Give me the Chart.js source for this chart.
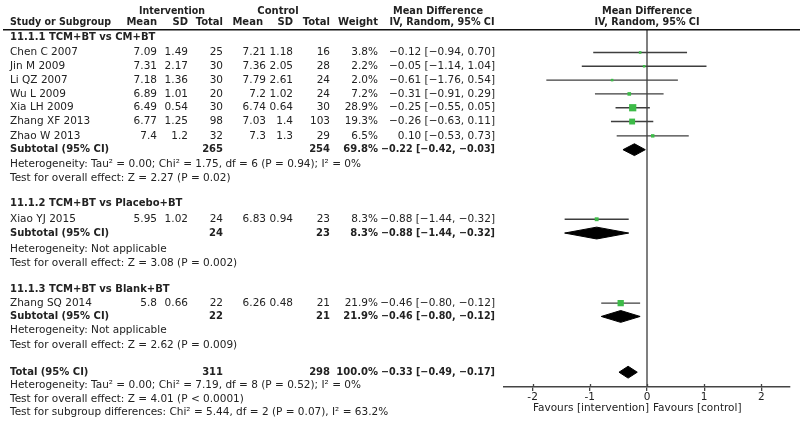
<!DOCTYPE html>
<html>
<head>
<meta charset="utf-8">
<script src="https://cdn.jsdelivr.net/npm/chart.js@4/dist/chart.umd.min.js"></script>
<style>
  html, body { margin: 0; padding: 0; background: #fff; }
  #wrap { width: 800px; height: 423px; }
</style>
</head>
<body>
<div id="wrap"><canvas id="forest" width="800" height="423"></canvas></div>
<script>
// study level data
var studies   = ['Chen C 2007', 'Jin M 2009', 'Li QZ 2007', 'Wu L 2009', 'Xia LH 2009', 'Zhang XF 2013', 'Zhao W 2013', 'Xiao YJ 2015', 'Zhang SQ 2014'];
var studyGroup = [0, 0, 0, 0, 0, 0, 0, 1, 2];
var intMean   = [7.09, 7.31, 7.18, 6.89, 6.49, 6.77, 7.4, 5.95, 5.8];
var intSD     = [1.49, 2.17, 1.36, 1.01, 0.54, 1.25, 1.2, 1.02, 0.66];
var intN      = [25, 30, 30, 20, 30, 98, 32, 24, 22];
var ctlMean   = [7.21, 7.36, 7.79, 7.2, 6.74, 7.03, 7.3, 6.83, 6.26];
var ctlSD     = [1.18, 2.05, 2.61, 1.02, 0.64, 1.4, 1.3, 0.94, 0.48];
var ctlN      = [16, 28, 24, 24, 30, 103, 29, 23, 21];
var weight    = [3.8, 2.2, 2.0, 7.2, 28.9, 19.3, 6.5, 8.3, 21.9];
var md        = [-0.12, -0.05, -0.61, -0.31, -0.25, -0.26, 0.10, -0.88, -0.46];
var mdLow     = [-0.94, -1.14, -1.76, -0.91, -0.55, -0.63, -0.53, -1.44, -0.80];
var mdHigh    = [0.70, 1.04, 0.54, 0.29, 0.05, 0.11, 0.73, -0.32, -0.12];

// subgroup data
var subgroups = ['11.1.1 TCM+BT vs CM+BT', '11.1.2 TCM+BT vs Placebo+BT', '11.1.3 TCM+BT vs Blank+BT'];
var subIntN   = [265, 24, 22];
var subCtlN   = [254, 23, 21];
var subWeight = [69.8, 8.3, 21.9];
var subMd     = [-0.22, -0.88, -0.46];
var subLow    = [-0.42, -1.44, -0.80];
var subHigh   = [-0.03, -0.32, -0.12];
var subHet    = ['Heterogeneity: Tau\u00b2 = 0.00; Chi\u00b2 = 1.75, df = 6 (P = 0.94); I\u00b2 = 0%',
                 'Heterogeneity: Not applicable',
                 'Heterogeneity: Not applicable'];
var subTest   = ['Test for overall effect: Z = 2.27 (P = 0.02)',
                 'Test for overall effect: Z = 3.08 (P = 0.002)',
                 'Test for overall effect: Z = 2.62 (P = 0.009)'];

// overall
var totalIntN = 311, totalCtlN = 298, totalWeight = 100.0;
var totalMd = -0.33, totalLow = -0.49, totalHigh = -0.17;
var totalNotes = ['Heterogeneity: Tau\u00b2 = 0.00; Chi\u00b2 = 7.19, df = 8 (P = 0.52); I\u00b2 = 0%',
                  'Test for overall effect: Z = 4.01 (P < 0.0001)',
                  'Test for subgroup differences: Chi\u00b2 = 5.44, df = 2 (P = 0.07), I\u00b2 = 63.2%'];

var xTicks = [-2, -1, 0, 1, 2];
var favours = ['Favours [intervention]', 'Favours [control]'];

// ---- layout (row positions on the y scale, column edges) ----
var ruleY = 25;
var axisY = 387;
var groupRowY = [33, 201, 288];
var studyRowY = [48, 62, 76, 90, 104, 118, 132.5, 217, 302];
var subRowY = [146.5, 231, 315.5];
var hetRowY = [161, 247, 330];
var testRowY = [175, 261.5, 345];
var totalRowY = 372;
var totalNoteY = [385, 399, 413];
var col = { name: 10, iMean: 157, iSD: 188, iN: 223, cMean: 266, cSD: 293, cN: 330, w: 378, md: 495 };

var FONT = '"DejaVu Sans", Verdana, sans-serif';
var INK = '#222';

function fmt(v) {
  return (v < 0 ? '\u2212' : '') + Math.abs(v).toFixed(2);
}
function ciText(m, l, h) {
  return fmt(m) + ' [' + fmt(l) + ', ' + fmt(h) + ']';
}

var datasets = [];

// confidence interval whiskers (drawn under the squares)
studies.forEach(function(s, i) {
  datasets.push({
    order: 2,
    data: [{x: mdLow[i], y: studyRowY[i]}, {x: mdHigh[i], y: studyRowY[i]}],
    showLine: true, borderColor: '#3e3e3e', borderWidth: 1.4, pointRadius: 0, fill: false
  });
});

// weighted squares
datasets.push({
  order: 0,
  data: studies.map(function(s, i) { return {x: md[i], y: studyRowY[i]}; }),
  pointStyle: 'rect',
  pointRadius: weight.map(function(w) { return Math.max(1.8, 0.95 * Math.sqrt(w)); }),
  backgroundColor: '#3dbb48', borderColor: '#3dbb48', borderWidth: 0
});

// diamonds for subtotals and total
function diamond(m, l, h, y, half) {
  return {
    order: 1,
    data: [{x: l, y: y}, {x: m, y: y - half}, {x: h, y: y}, {x: m, y: y + half}, {x: l, y: y}],
    showLine: true, fill: 'shape', tension: 0, pointRadius: 0,
    borderColor: '#000', backgroundColor: '#000', borderWidth: 1
  };
}
subgroups.forEach(function(g, i) {
  datasets.push(diamond(subMd[i], subLow[i], subHigh[i], subRowY[i], 6));
});
datasets.push(diamond(totalMd, totalLow, totalHigh, totalRowY, 6));

// line of no effect
datasets.push({
  order: 3,
  data: [{x: 0, y: ruleY}, {x: 0, y: axisY}],
  showLine: true, borderColor: '#555', borderWidth: 1.5, pointRadius: 0, fill: false
});

var tablePlugin = {
  id: 'forestTable',
  afterDraw: function(chart) {
    var ctx = chart.ctx;
    var ys = chart.scales.y, xs = chart.scales.x;
    var Y = function(v) { return ys.getPixelForValue(v); };
    var reg = '10.5px ' + FONT, bold = 'bold 10px ' + FONT;

    function txt(s, x, y, align, f, maxW) {
      ctx.font = f || reg;
      ctx.textAlign = align || 'left';
      if (maxW) ctx.fillText(s, x, Y(y), maxW);
      else ctx.fillText(s, x, Y(y));
    }

    ctx.save();
    ctx.fillStyle = INK;
    ctx.textBaseline = 'middle';

    // header
    var zeroX = xs.getPixelForValue(0);
    txt('Intervention', 172, 6, 'center', bold, 66);
    txt('Control', 278, 6, 'center', bold);
    txt('Mean Difference', 438, 6, 'center', bold, 90);
    txt('Mean Difference', zeroX, 6, 'center', bold, 90);
    txt('Study or Subgroup', col.name, 18, 'left', bold, 101);
    txt('Mean', col.iMean, 18, 'right', bold);
    txt('SD', col.iSD, 18, 'right', bold);
    txt('Total', col.iN, 18, 'right', bold);
    txt('Mean', col.cMean - 3, 18, 'right', bold);
    txt('SD', col.cSD, 18, 'right', bold);
    txt('Total', col.cN, 18, 'right', bold);
    txt('Weight', col.w, 18, 'right', bold);
    txt('IV, Random, 95% CI', 442, 18, 'center', bold, 105);
    txt('IV, Random, 95% CI', zeroX, 18, 'center', bold, 105);

    ctx.strokeStyle = '#111';
    ctx.lineWidth = 1.5;
    ctx.beginPath();
    ctx.moveTo(3, Y(ruleY));
    ctx.lineTo(800, Y(ruleY));
    ctx.stroke();

    // subgroups
    subgroups.forEach(function(g, gi) {
      txt(g, col.name, groupRowY[gi], 'left', bold);
      studies.forEach(function(s, i) {
        if (studyGroup[i] !== gi) return;
        var y = studyRowY[i];
        txt(s, col.name, y);
        txt(String(intMean[i]), col.iMean, y, 'right');
        txt(String(intSD[i]), col.iSD, y, 'right');
        txt(String(intN[i]), col.iN, y, 'right');
        txt(String(ctlMean[i]), col.cMean, y, 'right');
        txt(String(ctlSD[i]), col.cSD, y, 'right');
        txt(String(ctlN[i]), col.cN, y, 'right');
        txt(weight[i].toFixed(1) + '%', col.w, y, 'right');
        txt(ciText(md[i], mdLow[i], mdHigh[i]), col.md, y, 'right');
      });
      var sy = subRowY[gi];
      txt('Subtotal (95% CI)', col.name, sy, 'left', bold);
      txt(String(subIntN[gi]), col.iN, sy, 'right', bold);
      txt(String(subCtlN[gi]), col.cN, sy, 'right', bold);
      txt(subWeight[gi].toFixed(1) + '%', col.w, sy, 'right', bold);
      txt(ciText(subMd[gi], subLow[gi], subHigh[gi]), col.md, sy, 'right', bold, 114);
      txt(subHet[gi], col.name, hetRowY[gi]);
      txt(subTest[gi], col.name, testRowY[gi]);
    });

    // total
    txt('Total (95% CI)', col.name, totalRowY, 'left', bold);
    txt(String(totalIntN), col.iN, totalRowY, 'right', bold);
    txt(String(totalCtlN), col.cN, totalRowY, 'right', bold);
    txt(totalWeight.toFixed(1) + '%', col.w, totalRowY, 'right', bold);
    txt(ciText(totalMd, totalLow, totalHigh), col.md, totalRowY, 'right', bold, 114);
    totalNotes.forEach(function(n, i) { txt(n, col.name, totalNoteY[i]); });

    // tick marks poke a little above the axis as well
    ctx.strokeStyle = '#444';
    ctx.lineWidth = 1.3;
    xTicks.forEach(function(v) {
      var px = Math.round(xs.getPixelForValue(v)) + 0.5;
      ctx.beginPath();
      ctx.moveTo(px, Y(axisY) - 3);
      ctx.lineTo(px, Y(axisY));
      ctx.stroke();
    });

    // favours labels under the axis
    ctx.font = reg;
    ctx.textAlign = 'right';
    ctx.fillText(favours[0], zeroX + 2, 408);
    ctx.textAlign = 'left';
    ctx.fillText(favours[1], zeroX + 6, 408);
    ctx.restore();
  }
};

new Chart(document.getElementById('forest'), {
  type: 'scatter',
  data: { datasets: datasets },
  options: {
    responsive: false,
    animation: false,
    devicePixelRatio: 1,
    layout: { padding: { left: 504, right: 10, top: 0, bottom: 0 } },
    plugins: { legend: { display: false }, tooltip: { enabled: false } },
    scales: {
      x: {
        type: 'linear', min: -2.5, max: 2.5,
        afterBuildTicks: function(s) { s.ticks = xTicks.map(function(v) { return {value: v}; }); },
        afterFit: function(s) { s.height = 423 - axisY; },
        grid: { drawOnChartArea: false, drawTicks: true, tickLength: 4, color: '#444', lineWidth: 1.3 },
        border: { display: true, color: '#444', width: 1.5 },
        ticks: { color: INK, padding: 0, font: { family: FONT, size: 10.5 }, maxRotation: 0,
                  callback: function(v) { return String(v); } }
      },
      y: { type: 'linear', min: 0, max: axisY, reverse: true, display: false,
           afterFit: function(s) { s.width = 0; } }
    }
  },
  plugins: [tablePlugin]
});
</script>
</body>
</html>
